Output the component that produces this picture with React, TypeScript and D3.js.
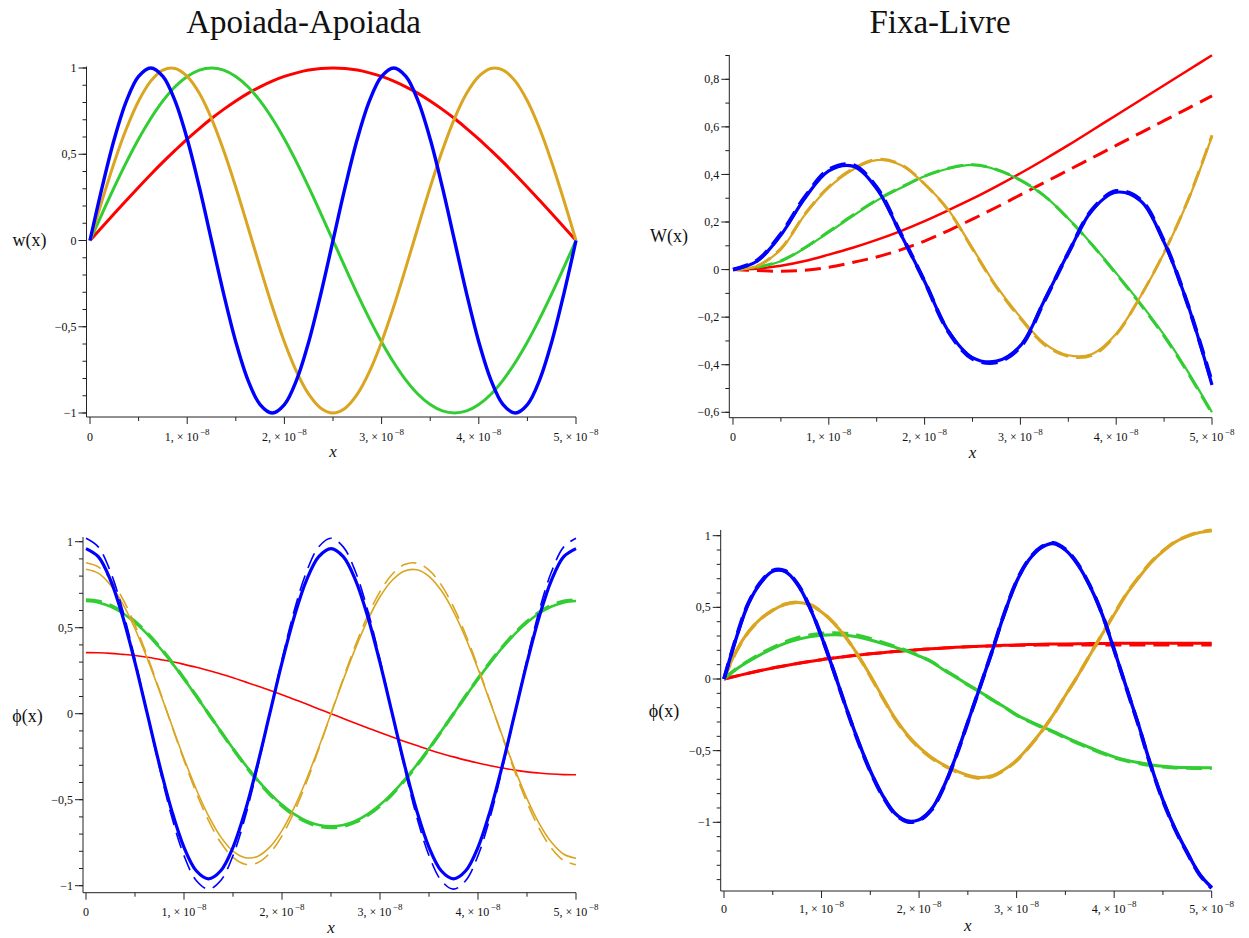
import React from "react";
import * as d3 from "d3";

// x positions in units of 1e-8 m
const X_FINE = [0, 0.125, 0.25, 0.375, 0.5, 0.625, 0.75, 0.875, 1, 1.125, 1.25, 1.375, 1.5, 1.625, 1.75, 1.875, 2, 2.125, 2.25, 2.375, 2.5, 2.625, 2.75, 2.875, 3, 3.125, 3.25, 3.375, 3.5, 3.625, 3.75, 3.875, 4, 4.125, 4.25, 4.375, 4.5, 4.625, 4.75, 4.875, 5];
const X_COARSE = [0, 0.25, 0.5, 0.75, 1, 1.25, 1.5, 1.75, 2, 2.25, 2.5, 2.75, 3, 3.25, 3.5, 3.75, 4, 4.25, 4.5, 4.75, 5];

const X_TICKS = [0, 1, 2, 3, 4, 5];
const X_MINOR = [0.5, 1.5, 2.5, 3.5, 4.5];
const X_TICK_LABELS = ["0", "1, × 10", "2, × 10", "3, × 10", "4, × 10", "5, × 10"];
const X_TICK_EXP = "−8";

// Apoiada-Apoiada: deflection w(x)
const SS_W1 = [0, .078, .156, .233, .309, .383, .454, .522, .588, .649, .707, .760, .809, .853, .891, .924, .951, .972, .988, .997, 1, .997, .988, .972, .951, .924, .891, .853, .809, .760, .707, .649, .588, .522, .454, .383, .309, .233, .156, .078, 0];
const SS_W2 = [0, .156, .309, .454, .588, .707, .809, .891, .951, .988, 1, .988, .951, .891, .809, .707, .588, .454, .309, .156, 0, -.156, -.309, -.454, -.588, -.707, -.809, -.891, -.951, -.988, -1, -.988, -.951, -.891, -.809, -.707, -.588, -.454, -.309, -.156, 0];
const SS_W3 = [0, .233, .454, .649, .809, .924, .988, .997, .951, .853, .707, .522, .309, .078, -.156, -.383, -.588, -.760, -.891, -.972, -1, -.972, -.891, -.760, -.588, -.383, -.156, .078, .309, .522, .707, .853, .951, .997, .988, .924, .809, .649, .454, .233, 0];
const SS_W4 = [0, .309, .588, .809, .951, 1, .951, .809, .588, .309, 0, -.309, -.588, -.809, -.951, -1, -.951, -.809, -.588, -.309, 0, .309, .588, .809, .951, 1, .951, .809, .588, .309, 0, -.309, -.588, -.809, -.951, -1, -.951, -.809, -.588, -.309, 0];

// Apoiada-Apoiada: rotation phi(x)
const SS_P1 = [.355, .354, .351, .345, .338, .328, .316, .303, .287, .270, .251, .231, .209, .185, .161, .136, .110, .083, .056, .028, 0, -.028, -.056, -.083, -.110, -.136, -.161, -.185, -.209, -.231, -.251, -.270, -.287, -.303, -.316, -.328, -.338, -.345, -.351, -.354, -.355];
const SS_P2 = [.655, .647, .623, .584, .530, .463, .385, .297, .202, .102, 0, -.102, -.202, -.297, -.385, -.463, -.530, -.584, -.623, -.647, -.655, -.647, -.623, -.584, -.530, -.463, -.385, -.297, -.202, -.102, 0, .102, .202, .297, .385, .463, .530, .584, .623, .647, .655];
const SS_P2D = [.662, .654, .630, .590, .536, .468, .389, .301, .205, .104, 0, -.104, -.205, -.301, -.389, -.468, -.536, -.590, -.630, -.654, -.662, -.654, -.630, -.590, -.536, -.468, -.389, -.301, -.205, -.104, 0, .104, .205, .301, .389, .468, .536, .590, .630, .654, .662];
const SS_P3 = [.840, .817, .748, .639, .494, .321, .131, -.066, -.260, -.439, -.594, -.716, -.799, -.837, -.830, -.776, -.680, -.545, -.381, -.196, 0, .196, .381, .545, .680, .776, .830, .837, .799, .716, .594, .439, .260, .066, -.131, -.321, -.494, -.639, -.748, -.817, -.840];
const SS_P3D = [.878, .854, .782, .668, .516, .336, .137, -.069, -.271, -.459, -.621, -.749, -.835, -.875, -.867, -.811, -.710, -.570, -.399, -.205, 0, .205, .399, .570, .710, .811, .867, .875, .835, .749, .621, .459, .271, .069, -.137, -.336, -.516, -.668, -.782, -.854, -.878];
const SS_P4 = [.960, .913, .777, .564, .297, 0, -.297, -.564, -.777, -.913, -.960, -.913, -.777, -.564, -.297, 0, .297, .564, .777, .913, .960, .913, .777, .564, .297, 0, -.297, -.564, -.777, -.913, -.960, -.913, -.777, -.564, -.297, 0, .297, .564, .777, .913, .960];
const SS_P4D = [1.020, .970, .825, .600, .315, 0, -.315, -.600, -.825, -.970, -1.020, -.970, -.825, -.600, -.315, 0, .315, .600, .825, .970, 1.020, .970, .825, .600, .315, 0, -.315, -.600, -.825, -.970, -1.020, -.970, -.825, -.600, -.315, 0, .315, .600, .825, .970, 1.020];

// Fixa-Livre: deflection W(x)
const FL_W1 = [0, .004, .016, .036, .063, .092, .125, .162, .204, .25, .298, .35, .405, .463, .523, .586, .649, .712, .775, .838, .901];
const FL_W1D = [0, -.004, -.007, -.003, .01, .03, .053, .083, .12, .164, .212, .262, .314, .366, .418, .47, .522, .574, .626, .678, .73];
const FL_W2 = [0, .01, .035, .09, .157, .225, .29, .343, .392, .425, .44, .42, .375, .31, .215, .105, -.015, -.14, -.275, -.43, -.60];
const FL_W2D = [0, .01, .037, .092, .16, .228, .292, .345, .393, .426, .441, .421, .376, .31, .214, .103, -.018, -.144, -.28, -.435, -.605];
const FL_W3 = [0, .015, .085, .23, .345, .42, .46, .44, .36, .25, .09, -.07, -.20, -.31, -.36, -.355, -.27, -.115, .07, .29, .56];
const FL_W3D = [0, .015, .088, .233, .348, .423, .463, .442, .36, .248, .087, -.074, -.205, -.315, -.365, -.36, -.273, -.115, .072, .293, .565];
const FL_W4 = [0, .035, .145, .30, .415, .435, .34, .15, -.05, -.26, -.37, -.385, -.32, -.13, .07, .25, .325, .29, .115, -.15, -.485];
const FL_W4D = [0, .038, .15, .305, .42, .44, .345, .152, -.05, -.262, -.375, -.39, -.325, -.132, .07, .252, .33, .295, .118, -.15, -.475];

// Fixa-Livre: rotation phi(x)
const FL_P1 = [0, .02, .04, .059, .077, .093, .108, .122, .135, .146, .157, .167, .176, .184, .192, .199, .205, .211, .216, .221, .225, .229, .232, .235, .238, .240, .242, .244, .245, .246, .247, .248, .249, .249, .250, .250, .250, .250, .250, .250, .250];
const FL_P1D = [0, .02, .04, .059, .077, .093, .108, .122, .135, .146, .157, .167, .176, .184, .192, .199, .205, .211, .216, .221, .225, .228, .231, .233, .235, .236, .237, .238, .238, .238, .238, .238, .238, .238, .238, .238, .238, .238, .238, .238, .238];
const FL_P2 = [0, .068, .122, .17, .212, .248, .275, .294, .305, .309, .306, .293, .272, .248, .222, .194, .16, .12, .065, .015, -.04, -.09, -.145, -.195, -.25, -.292, -.33, -.365, -.405, -.443, -.478, -.513, -.543, -.566, -.583, -.598, -.609, -.615, -.618, -.619, -.62];
const FL_P2D = [0, .07, .126, .176, .22, .258, .287, .306, .318, .321, .318, .305, .282, .256, .228, .198, .163, .122, .067, .016, -.04, -.09, -.145, -.196, -.252, -.295, -.334, -.37, -.41, -.448, -.483, -.518, -.548, -.571, -.588, -.603, -.613, -.619, -.622, -.623, -.624];
const FL_P3 = [0, .195, .33, .42, .48, .52, .533, .518, .467, .39, .29, .165, .025, -.125, -.27, -.385, -.475, -.545, -.598, -.64, -.672, -.688, -.675, -.632, -.566, -.475, -.37, -.25, -.115, .02, .165, .31, .45, .59, .705, .81, .89, .955, .995, 1.022, 1.035];
const FL_P3D = [0, .19, .326, .418, .48, .522, .536, .522, .47, .392, .29, .162, .02, -.13, -.275, -.39, -.48, -.55, -.602, -.645, -.676, -.692, -.68, -.636, -.57, -.478, -.372, -.252, -.116, .02, .167, .313, .454, .594, .71, .814, .894, .958, .998, 1.025, 1.038];
const FL_P4 = [0, .285, .525, .67, .752, .75, .665, .505, .295, .055, -.195, -.43, -.64, -.81, -.935, -.99, -.982, -.91, -.755, -.545, -.30, -.055, .196, .457, .68, .83, .915, .945, .90, .80, .65, .455, .203, -.06, -.32, -.60, -.845, -1.045, -1.21, -1.36, -1.455];
const FL_P4D = [0, .29, .53, .675, .757, .755, .668, .508, .297, .055, -.198, -.435, -.645, -.815, -.94, -.995, -.987, -.915, -.76, -.548, -.302, -.055, .198, .46, .684, .835, .92, .95, .905, .805, .653, .457, .203, -.062, -.324, -.605, -.85, -1.05, -1.215, -1.365, -1.46];

const RED = "#ff0000";
const GREEN = "#32cd32";
const GOLD = "#daa520";
const BLUE = "#0000ff";
const DASH = "16,8";

type Series = { x: number[]; y: number[]; color: string; width: number; dash?: string };
type PanelCfg = {
  x0: number; x1: number; axisX: number; axisTop: number; axisY: number;
  yDomain: [number, number]; yRange: [number, number];
  majors: number[]; majorLabels: string[]; minorFrom: number; minorTo: number;
  ylabel: string; ylabelX: number; ylabelY: number; tickLabelDy: number;
  series: Series[];
};

const FONT = "'Liberation Serif', 'Times New Roman', serif";

const PANELS: PanelCfg[] = [
  {
    x0: 90, x1: 576, axisX: 86.5, axisTop: 66.5, axisY: 417,
    yDomain: [-1, 1], yRange: [413, 68],
    majors: [-1, -0.5, 0, 0.5, 1], majorLabels: ["−1", "−0,5", "0", "0,5", "1"], minorFrom: -1, minorTo: 1,
    ylabel: "w(x)", ylabelX: 29.5, ylabelY: 241, tickLabelDy: 23.5,
    series: [
      { x: X_FINE, y: SS_W1, color: RED, width: 3 },
      { x: X_FINE, y: SS_W2, color: GREEN, width: 3 },
      { x: X_FINE, y: SS_W3, color: GOLD, width: 3 },
      { x: X_FINE, y: SS_W4, color: BLUE, width: 3.4 },
    ],
  },
  {
    x0: 733, x1: 1212, axisX: 729.3, axisTop: 55, axisY: 417.7,
    yDomain: [-0.6, 0.8], yRange: [412.3, 79.3],
    majors: [-0.6, -0.4, -0.2, 0, 0.2, 0.4, 0.6, 0.8], majorLabels: ["−0,6", "−0,4", "−0,2", "0", "0,2", "0,4", "0,6", "0,8"], minorFrom: -0.6, minorTo: 0.9,
    ylabel: "W(x)", ylabelX: 669, ylabelY: 237, tickLabelDy: 23.5,
    series: [
      { x: X_COARSE, y: FL_W1, color: RED, width: 2.5 },
      { x: X_COARSE, y: FL_W1D, color: RED, width: 3, dash: DASH },
      { x: X_COARSE, y: FL_W2, color: GREEN, width: 2.2 },
      { x: X_COARSE, y: FL_W2D, color: GREEN, width: 3, dash: DASH },
      { x: X_COARSE, y: FL_W3, color: GOLD, width: 2.2 },
      { x: X_COARSE, y: FL_W3D, color: GOLD, width: 3, dash: DASH },
      { x: X_COARSE, y: FL_W4, color: BLUE, width: 3.2 },
      { x: X_COARSE, y: FL_W4D, color: BLUE, width: 4, dash: DASH },
    ],
  },
  {
    x0: 86, x1: 576, axisX: 83, axisTop: 537, axisY: 892.7,
    yDomain: [-1, 1], yRange: [885.7, 541.7],
    majors: [-1, -0.5, 0, 0.5, 1], majorLabels: ["−1", "−0,5", "0", "0,5", "1"], minorFrom: -1, minorTo: 1,
    ylabel: "ϕ(x)", ylabelX: 27.5, ylabelY: 717, tickLabelDy: 23.5,
    series: [
      { x: X_FINE, y: SS_P1, color: RED, width: 1.6 },
      { x: X_FINE, y: SS_P2, color: GREEN, width: 2.6 },
      { x: X_FINE, y: SS_P2D, color: GREEN, width: 3.4, dash: DASH },
      { x: X_FINE, y: SS_P3, color: GOLD, width: 1.6 },
      { x: X_FINE, y: SS_P3D, color: GOLD, width: 1.6, dash: DASH },
      { x: X_FINE, y: SS_P4, color: BLUE, width: 3.2 },
      { x: X_FINE, y: SS_P4D, color: BLUE, width: 1.6, dash: DASH },
    ],
  },
  {
    x0: 724, x1: 1211.7, axisX: 720.7, axisTop: 530, axisY: 891,
    yDomain: [-1, 1], yRange: [822.3, 535.7],
    majors: [-1, -0.5, 0, 0.5, 1], majorLabels: ["−1", "−0,5", "0", "0,5", "1"], minorFrom: -1.4, minorTo: 1,
    ylabel: "ϕ(x)", ylabelX: 664, ylabelY: 712, tickLabelDy: 21.5,
    series: [
      { x: X_FINE, y: FL_P1, color: RED, width: 3 },
      { x: X_FINE, y: FL_P1D, color: RED, width: 3, dash: DASH },
      { x: X_FINE, y: FL_P2, color: GREEN, width: 3 },
      { x: X_FINE, y: FL_P2D, color: GREEN, width: 3.4, dash: DASH },
      { x: X_FINE, y: FL_P3, color: GOLD, width: 3 },
      { x: X_FINE, y: FL_P3D, color: GOLD, width: 3.4, dash: DASH },
      { x: X_FINE, y: FL_P4, color: BLUE, width: 3.4 },
      { x: X_FINE, y: FL_P4D, color: BLUE, width: 3.8, dash: DASH },
    ],
  },
];

const TITLES = [
  { text: "Apoiada-Apoiada", x: 303.5, y: 33 },
  { text: "Fixa-Livre", x: 940, y: 33 },
];

function Panel({ cfg }: { cfg: PanelCfg }) {
  const xs = d3.scaleLinear().domain([0, 5]).range([cfg.x0, cfg.x1]);
  const ys = d3.scaleLinear().domain(cfg.yDomain).range(cfg.yRange);
  const minors = d3.range(Math.round(cfg.minorFrom * 10), Math.round(cfg.minorTo * 10) + 1).map((k) => k / 10);
  const axisColor = "#222";
  return (
    <g>
      {cfg.series.map((s, i) => {
        const gen = d3
          .line<number>()
          .x((_, j) => xs(s.x[j]))
          .y((v) => ys(v))
          .curve(d3.curveCatmullRom.alpha(0.5));
        return (
          <path
            key={i}
            d={gen(s.y) || ""}
            fill="none"
            stroke={s.color}
            strokeWidth={s.width}
            strokeDasharray={s.dash}
            strokeLinejoin="round"
          />
        );
      })}
      {/* axes */}
      <line x1={cfg.axisX} x2={cfg.axisX} y1={cfg.axisTop} y2={cfg.axisY} stroke={axisColor} strokeWidth={1} />
      <line x1={cfg.axisX} x2={cfg.x1} y1={cfg.axisY} y2={cfg.axisY} stroke={axisColor} strokeWidth={1} />
      {minors.map((v) => (
        <line key={"ym" + v} x1={cfg.axisX - 4} x2={cfg.axisX} y1={ys(v)} y2={ys(v)} stroke={axisColor} strokeWidth={1} />
      ))}
      {cfg.majors.map((v, i) => (
        <g key={"yM" + v}>
          <line x1={cfg.axisX - 8} x2={cfg.axisX} y1={ys(v)} y2={ys(v)} stroke={axisColor} strokeWidth={1} />
          <text x={cfg.axisX - 10} y={ys(v)} dy="0.34em" textAnchor="end" fontSize={12} fontFamily={FONT} fill="#111">
            {cfg.majorLabels[i]}
          </text>
        </g>
      ))}
      {X_MINOR.map((v) => (
        <line key={"xm" + v} x1={xs(v)} x2={xs(v)} y1={cfg.axisY} y2={cfg.axisY + 4} stroke={axisColor} strokeWidth={1} />
      ))}
      {X_TICKS.map((v, i) => (
        <g key={"xM" + v}>
          <line x1={xs(v)} x2={xs(v)} y1={cfg.axisY} y2={cfg.axisY + 7} stroke={axisColor} strokeWidth={1} />
          <text x={xs(v)} y={cfg.axisY + cfg.tickLabelDy} textAnchor="middle" fontSize={12} fontFamily={FONT} fill="#111">
            {X_TICK_LABELS[i]}
            {i > 0 ? (
              <tspan dy={-6} dx={1.5} fontSize={9}>
                {X_TICK_EXP}
              </tspan>
            ) : null}
          </text>
        </g>
      ))}
      <text x={(cfg.x0 + cfg.x1) / 2} y={cfg.axisY + 40} textAnchor="middle" fontSize={17} fontStyle="italic" fontFamily={FONT} fill="#111">
        x
      </text>
      <text x={cfg.ylabelX} y={cfg.ylabelY} dy="0.3em" textAnchor="middle" fontSize={18} fontFamily={FONT} fill="#111">
        {cfg.ylabel}
      </text>
    </g>
  );
}

export default function App() {
  return (
    <svg width={1249} height={938} style={{ display: "block", position: "absolute", left: 0, top: 0, background: "#fff" }}>
      <rect x={0} y={0} width={1249} height={938} fill="#fff" />
      {TITLES.map((t) => (
        <text key={t.text} x={t.x} y={t.y} textAnchor="middle" fontSize={33} fontFamily={FONT} fill="#111">
          {t.text}
        </text>
      ))}
      {PANELS.map((p, i) => (
        <Panel key={i} cfg={p} />
      ))}
    </svg>
  );
}
